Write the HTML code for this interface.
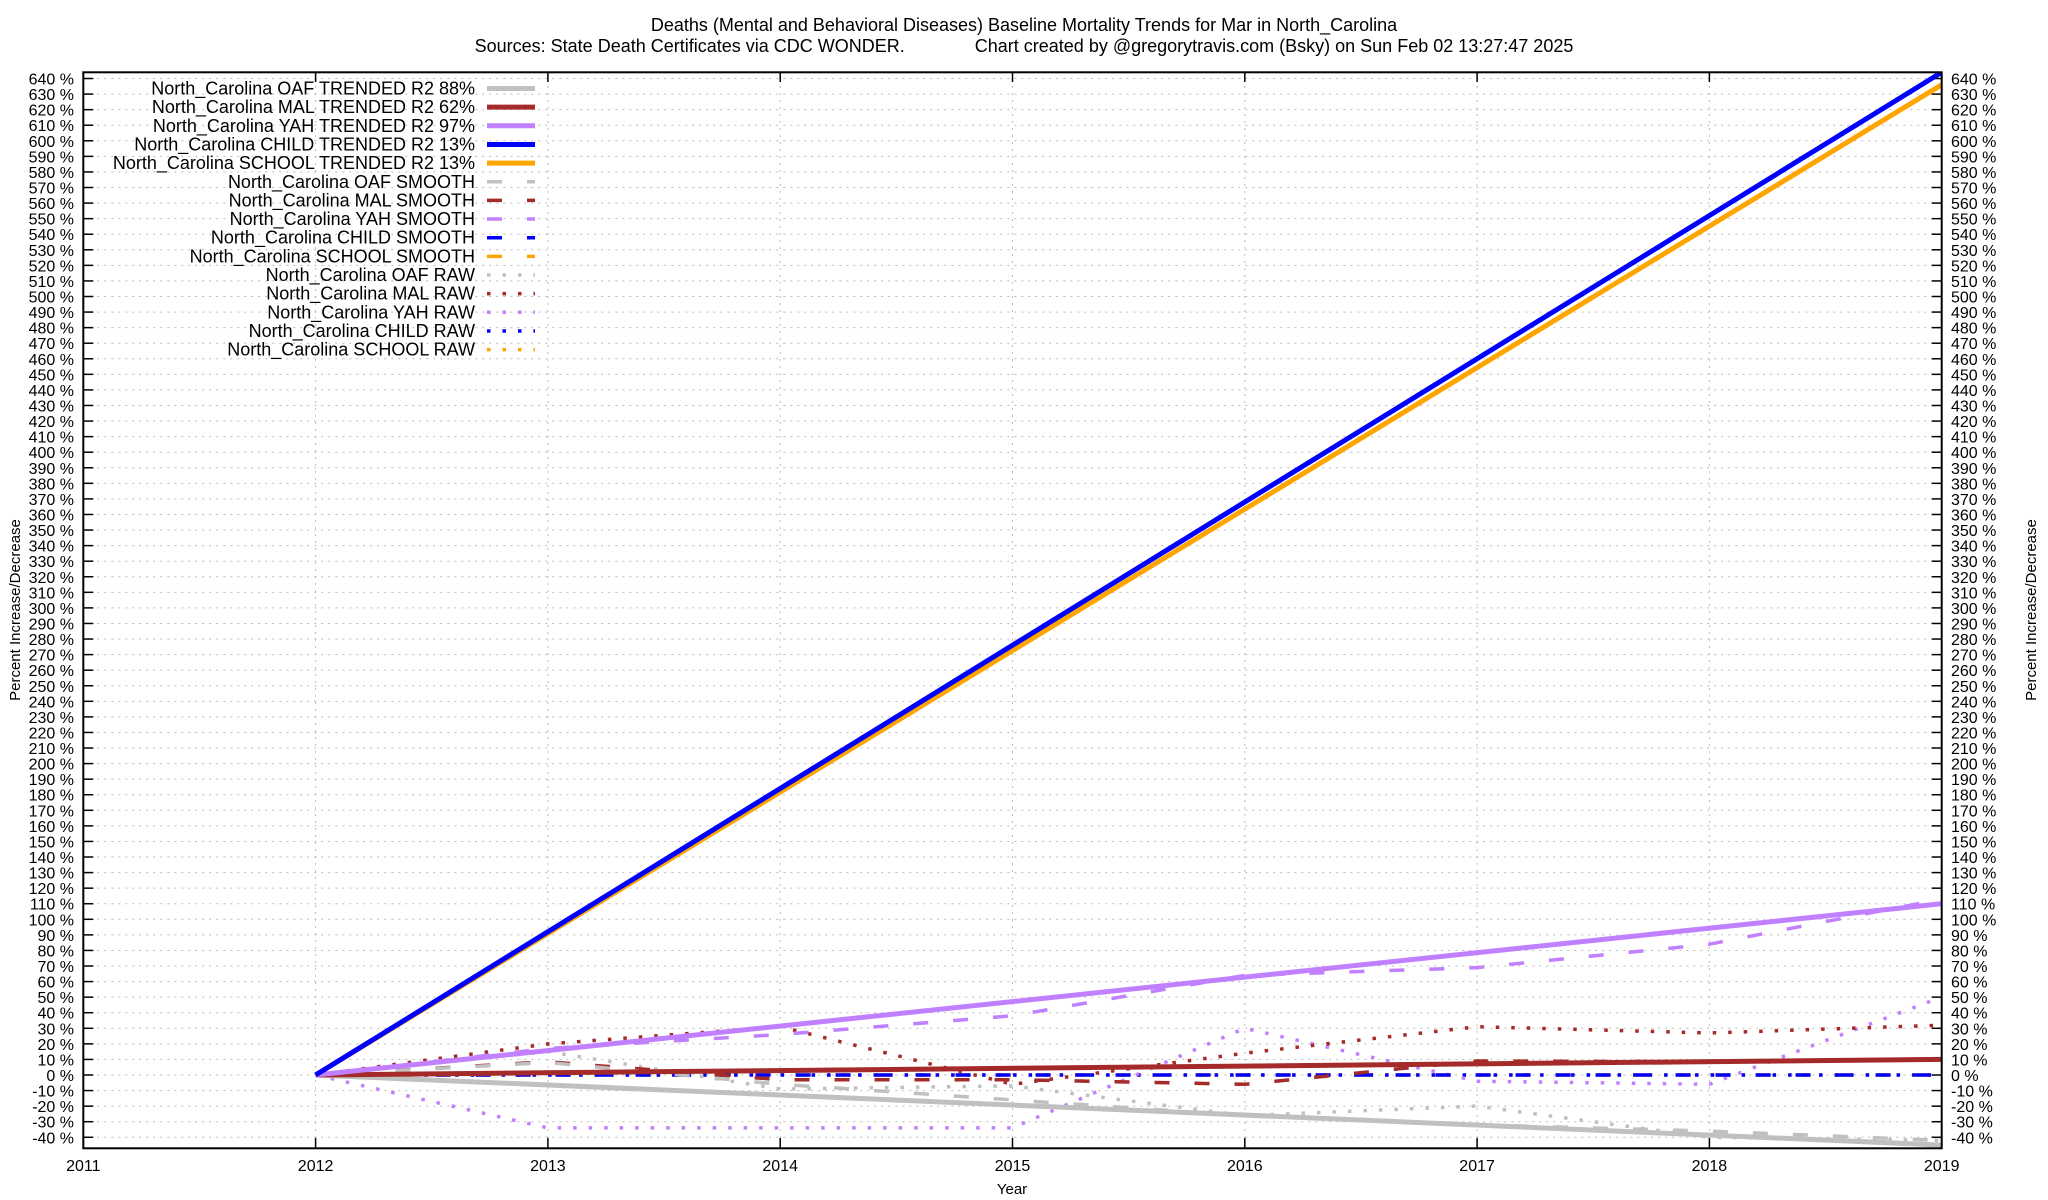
<!DOCTYPE html>
<html><head><meta charset="utf-8">
<style>
html,body{margin:0;padding:0;background:#fff;}
svg{display:block;font-family:"Liberation Sans",sans-serif;}
</style></head>
<body>
<svg id="chart" width="2048" height="1200" viewBox="0 0 2048 1200" xmlns="http://www.w3.org/2000/svg">
<text x="1024" y="31" font-size="18" text-anchor="middle">Deaths (Mental and Behavioral Diseases)  Baseline Mortality Trends for Mar in North_Carolina</text>
<text x="1024" y="52" font-size="18" text-anchor="middle" xml:space="preserve">Sources: State Death Certificates via CDC WONDER.              Chart created by @gregorytravis.com (Bsky) on Sun Feb 02 13:27:47 2025</text>
<g id="grid"></g>
<g id="yticks"></g>
<g id="xticks"></g>
<defs><clipPath id="plotclip"><rect x="83" y="72" width="1859" height="1076"/></clipPath></defs>
<g id="series" clip-path="url(#plotclip)"></g>
<rect x="83.3" y="72.3" width="1858.4" height="1076" fill="none" stroke="#000" stroke-width="2"/>
<g id="legend"></g>
<text x="20" y="610" font-size="15" text-anchor="middle" transform="rotate(-90 20 610)">Percent Increase/Decrease</text>
<text x="2036" y="610" font-size="15" text-anchor="middle" transform="rotate(-90 2036 610)">Percent Increase/Decrease</text>
<text x="1012" y="1194" font-size="15" text-anchor="middle">Year</text>
</svg>
<script>
const years = [2012, 2013, 2014, 2015, 2016, 2017, 2018, 2019];
const xTicks = [2011, 2012, 2013, 2014, 2015, 2016, 2017, 2018, 2019];
const yTicks = [-40,-30,-20,-10,0,10,20,30,40,50,60,70,80,90,100,110,120,130,140,150,160,170,180,190,200,210,220,230,240,250,260,270,280,290,300,310,320,330,340,350,360,370,380,390,400,410,420,430,440,450,460,470,480,490,500,510,520,530,540,550,560,570,580,590,600,610,620,630,640];
const oafTrend = [0, -45];
const malTrend = [0, 10];
const yahTrend = [0, 110];
const childTrend = [0, 644];
const schoolTrend = [0, 636];
const oafSmooth = [0, 8, -6, -16, -26, -32, -36, -42];
const malSmooth = [0, 8.5, -3, -3, -6, 9, 8.5, 10.5];
const yahSmooth = [0, 17, 26, 38, 64, 69, 84, 113];
const childSmooth = [0, 0, 0, 0, 0, 0, 0, 0];
const schoolSmooth = [0, 0, 0, 0, 0, 0, 0, 0];
const oafRaw = [0, 15, -9, -7, -26, -20, -40, -42];
const malRaw = [0, 20, 31, -6, 14, 31, 27, 32];
const yahRaw = [0, -34, -34, -34, 30, -4, -6, 50];
const childRaw = [0, 0, 0, 0, 0, 0, 0, 0];
const schoolRaw = [0, 0, 0, 0, 0, 0, 0, 0];

const NS = "http://www.w3.org/2000/svg";
const X0 = 83.3, XW = 232.3, Y0 = 1075, YS = 1.557;
function xs(yr){ return X0 + (yr - 2011) * XW; }
function ys(v){ return Y0 - v * YS; }
function mk(tag, attrs, parent){ const e = document.createElementNS(NS, tag); for (const k in attrs) e.setAttribute(k, attrs[k]); parent.appendChild(e); return e; }

const grid = document.getElementById('grid');
const yt = document.getElementById('yticks');
const xt = document.getElementById('xticks');
yTicks.forEach(v => {
  const y = ys(v);
  const g = mk('line', {x1:X0, x2:1941.7, y1:y, y2:y, stroke:'#bbb', 'stroke-width':1, 'stroke-dasharray':'2,5'}, grid);
  
  
  const t1 = mk('line', {x1:X0, x2:X0+10, y1:y, y2:y, stroke:'#000', 'stroke-width':1.5}, yt);
  
  
  const t2 = mk('line', {x1:1931.7, x2:1941.7, y1:y, y2:y, stroke:'#000', 'stroke-width':1.5}, yt);
  
  
  const l = mk('text', {x:74, y:y+6, 'font-size':16, 'text-anchor':'end'}, yt);
  l.textContent = v + ' %';
  
  
  const r = mk('text', {x:1951, y:y+6, 'font-size':16}, yt);
  r.textContent = v + ' %';
  
  
});
xTicks.forEach(yr => {
  const x = xs(yr);
  const g = mk('line', {x1:x, x2:x, y1:72, y2:1148, stroke:'#bbb', 'stroke-width':1, 'stroke-dasharray':'2,5'}, grid);
  
  
  const t1 = mk('line', {x1:x, x2:x, y1:1148, y2:1138, stroke:'#000', 'stroke-width':1.5}, xt);
  
  
  const t2 = mk('line', {x1:x, x2:x, y1:72, y2:82, stroke:'#000', 'stroke-width':1.5}, xt);
  
  
  const l = mk('text', {x:x, y:1171, 'font-size':16, 'text-anchor':'middle'}, xt);
  l.textContent = yr;
  
  
});

const S = document.getElementById('series');
const SMOOTH = {w:3.5, dash:'15,25'};
const RAW = {w:3.5, dash:'3.5,12'};
function drawSeries(name, xv, vals, color, w, dash){
  const pts = vals.map((v,i) => xs(xv[i]).toFixed(1) + ',' + ys(v).toFixed(1)).join(' ');
  const a = {points:pts, fill:'none', stroke:color, 'stroke-width':w, 'stroke-linejoin':'round'};
  if (dash) a['stroke-dasharray'] = dash;
  const p = mk('polyline', a, S);
  
  
}
const trendX = [2012, 2019];
// raw (bottom)
drawSeries('school-raw-line', years, schoolRaw, '#ffa500', RAW.w, RAW.dash);
drawSeries('child-raw-line', years, childRaw, '#0000ff', RAW.w, RAW.dash);
drawSeries('yah-raw-line', years, yahRaw, '#c080ff', RAW.w, RAW.dash);
drawSeries('mal-raw-line', years, malRaw, '#a52a2a', RAW.w, RAW.dash);
drawSeries('oaf-raw-line', years, oafRaw, '#c0c0c0', RAW.w, RAW.dash);
// smooth
drawSeries('school-smooth-line', years, schoolSmooth, '#ffa500', SMOOTH.w, SMOOTH.dash);
drawSeries('child-smooth-line', years, childSmooth, '#0000ff', SMOOTH.w, SMOOTH.dash);
drawSeries('yah-smooth-line', years, yahSmooth, '#c080ff', SMOOTH.w, SMOOTH.dash);
drawSeries('mal-smooth-line', years, malSmooth, '#a52a2a', SMOOTH.w, SMOOTH.dash);
drawSeries('oaf-smooth-line', years, oafSmooth, '#c0c0c0', SMOOTH.w, SMOOTH.dash);
// trends
drawSeries('oaf-trend-line', trendX, oafTrend, '#c0c0c0', 5, null);
drawSeries('mal-trend-line', trendX, malTrend, '#a52a2a', 5, null);
drawSeries('yah-trend-line', trendX, yahTrend, '#c080ff', 5, null);
drawSeries('school-trend-line', trendX, schoolTrend, '#ffa500', 5, null);
drawSeries('child-trend-line', trendX, childTrend, '#0000ff', 5, null);

// legend
const legendLabels = ['North_Carolina OAF TRENDED R2  88%','North_Carolina MAL TRENDED R2  62%','North_Carolina YAH TRENDED R2  97%','North_Carolina CHILD TRENDED R2  13%','North_Carolina SCHOOL TRENDED R2  13%','North_Carolina OAF SMOOTH','North_Carolina MAL SMOOTH','North_Carolina YAH SMOOTH','North_Carolina CHILD SMOOTH','North_Carolina SCHOOL SMOOTH','North_Carolina OAF RAW','North_Carolina MAL RAW','North_Carolina YAH RAW','North_Carolina CHILD RAW','North_Carolina SCHOOL RAW'];
const legendColors = ['#c0c0c0','#a52a2a','#c080ff','#0000ff','#ffa500'];
const L = document.getElementById('legend');
legendLabels.forEach((lab, i) => {
  const y = 88.5 + i * 18.65;
  const g = mk('g', {}, L);
  
  
  const t = mk('text', {x:475, y:y+6, 'font-size':18, 'text-anchor':'end'}, g);
  t.setAttribute('xml:space', 'preserve');
  t.textContent = lab;
  const kind = Math.floor(i / 5);
  const a = {x1:487, x2:535, y1:y, y2:y, stroke:legendColors[i % 5]};
  if (kind === 0) { a['stroke-width'] = 5; }
  else if (kind === 1) { a['stroke-width'] = 3.5; a['stroke-dasharray'] = '15,25'; }
  else { a['stroke-width'] = 3.5; a['stroke-dasharray'] = '3.5,12'; }
  const ln = mk('line', a, g);
  
  
});
</script>
</body></html>
